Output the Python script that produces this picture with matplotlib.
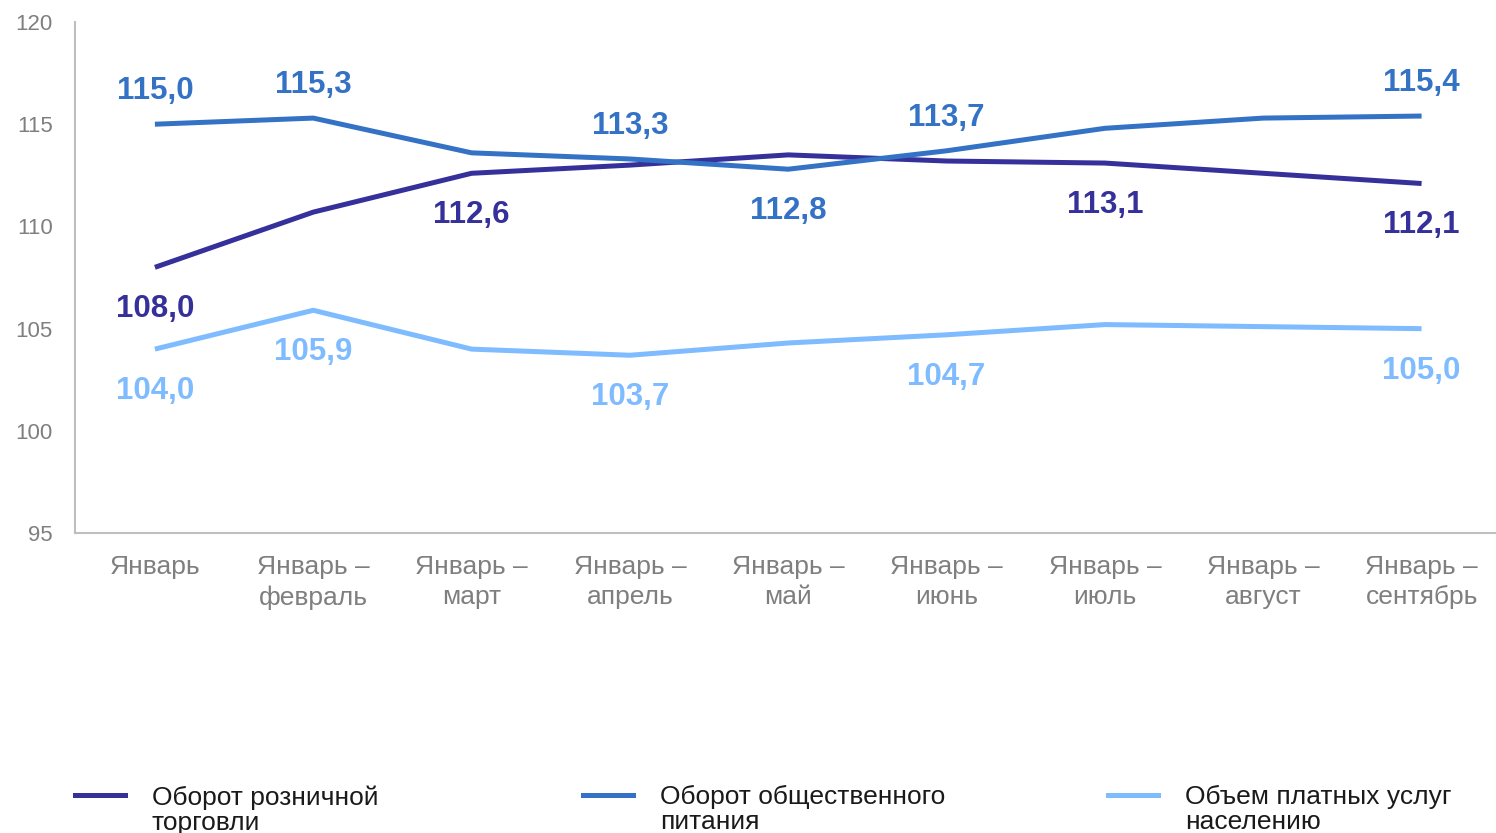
import numpy as np
import matplotlib.pyplot as plt
from matplotlib.lines import Line2D

plt.rcParams['font.family'] = ['Liberation Sans', 'DejaVu Sans']

# data
categories = ['Январь', 'Январь –\nфевраль', 'Январь –\nмарт', 'Январь –\nапрель',
              'Январь –\nмай', 'Январь –\nиюнь', 'Январь –\nиюль', 'Январь –\nавгуст',
              'Январь –\nсентябрь']
retail = [108.0, 110.7, 112.6, 113.0, 113.5, 113.2, 113.1, 112.6, 112.1]
catering = [115.0, 115.3, 113.6, 113.3, 112.8, 113.7, 114.8, 115.3, 115.4]
services = [104.0, 105.9, 104.0, 103.7, 104.3, 104.7, 105.2, 105.1, 105.0]
series_names = ['Оборот розничной\nторговли', 'Оборот общественного\nпитания',
                'Объем платных услуг\nнаселению']

# which points get a value label: index -> +1 above / -1 below
retail_labels = {0: -1, 2: -1, 6: -1, 8: -1}
catering_labels = {0: 1, 1: 1, 3: 1, 4: -1, 5: 1, 8: 1}
services_labels = {0: -1, 1: -1, 3: -1, 5: -1, 8: -1}

colors = ['#35309a', '#3372c4', '#7fbbff']

fig = plt.figure(figsize=(14.96, 8.33), dpi=100)
ax = fig.add_axes([0.0501, 0.360, 0.9499, 0.6136])

x = np.arange(len(categories))
all_series = [retail, catering, services]
all_labels = [retail_labels, catering_labels, services_labels]

for vals, lab, c in zip(all_series, all_labels, colors):
    ax.plot(x, vals, color=c, lw=3.6, solid_capstyle='butt')
    for i, side in lab.items():
        txt = ('%.1f' % vals[i]).replace('.', ',')
        ax.annotate(txt, (x[i], vals[i]), xytext=(0, 27 * side - 3.2),
                    textcoords='offset points', ha='center', va='center',
                    fontsize=22.5, fontweight='bold', color=c)

ax.set_xlim(-0.505, 8.47)
ax.set_ylim(95, 120)
ax.set_yticks([95, 100, 105, 110, 115, 120])
ax.set_xticks(x)
ax.set_xticklabels(categories, fontsize=19, color='#7f7f7f', linespacing=1.3)
ax.tick_params(axis='y', length=0, pad=16, labelsize=16, labelcolor='#7f7f7f')
ax.tick_params(axis='x', length=0, pad=16)

for s in ['top', 'right']:
    ax.spines[s].set_visible(False)
for s in ['left', 'bottom']:
    ax.spines[s].set_color('#bfbfbf')
    ax.spines[s].set_linewidth(1.5)

# legend drawn by hand at the bottom
leg_x = [75, 583, 1108]
W, H = 1496, 833
for lx, name, c in zip(leg_x, series_names, colors):
    fig.add_artist(Line2D([lx / W, (lx + 50) / W], [1 - 795 / H, 1 - 795 / H],
                          color=c, lw=3.6, transform=fig.transFigure))
    fig.text((lx + 77) / W, 1 - 785 / H, name, fontsize=19, color='#1a1a1a',
             va='top', ha='left', linespacing=1.07)

fig.savefig('out.png', dpi=100)
